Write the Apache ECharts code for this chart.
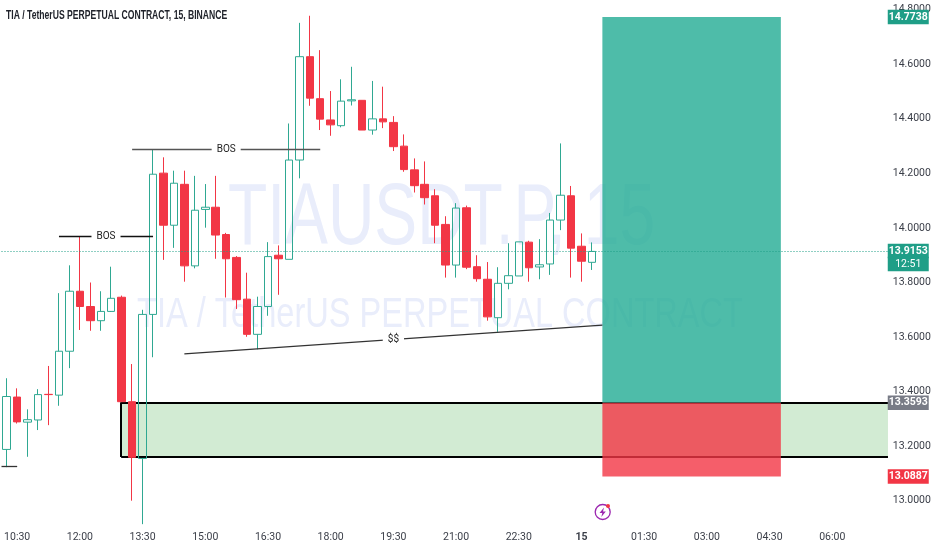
<!DOCTYPE html>
<html>
<head>
<meta charset="utf-8">
<style>html,body{margin:0;padding:0;background:#fff}#c{width:932px;height:550px}</style>
<script src="https://cdn.jsdelivr.net/npm/echarts@6/dist/echarts.min.js"></script>
</head>
<body>
<div id="c"></div>
<script>
const categories = ["10:15","10:30","10:45","11:00","11:15","11:30","11:45","12:00","12:15","12:30","12:45","13:00","13:15","13:30","13:45","14:00","14:15","14:30","14:45","15:00","15:15","15:30","15:45","16:00","16:15","16:30","16:45","17:00","17:15","17:30","17:45","18:00","18:15","18:30","18:45","19:00","19:15","19:30","19:45","20:00","20:15","20:30","20:45","21:00","21:15","21:30","21:45","22:00","22:15","22:30","22:45","23:00","23:15","23:30","23:45","15","00:15","00:30","00:45","01:00","01:15","01:30","01:45","02:00","02:15","02:30","02:45","03:00","03:15","03:30","03:45","04:00","04:15","04:30","04:45","05:00","05:15","05:30","05:45","06:00","06:15","06:30","06:45","07:00","07:15"];
const xTickLabels = ["10:30","12:00","13:30","15:00","16:30","18:00","19:30","21:00","22:30","15","01:30","03:00","04:30","06:00"];
const yTickLabels = [13.0,13.2,13.4,13.6,13.8,14.0,14.2,14.4,14.6,14.8];

const opens  = [13.188,13.380,13.288,13.296,13.390,13.387,13.548,13.768,13.712,13.660,13.694,13.746,13.363,13.155,13.683,14.201,14.010,14.160,13.861,14.068,14.076,13.976,13.892,13.739,13.610,13.712,13.900,13.885,14.249,14.628,14.474,14.396,14.375,14.466,14.468,14.359,14.400,14.387,14.300,14.213,14.160,14.118,14.013,13.864,14.074,13.858,13.812,13.671,13.797,13.824,13.948,13.857,13.868,14.029,14.118,13.933,13.874];
const closes = [13.382,13.289,13.297,13.389,13.389,13.548,13.768,13.712,13.660,13.694,13.742,13.363,13.159,13.683,14.197,14.010,14.164,13.861,14.065,14.076,13.974,13.887,13.737,13.610,13.712,13.895,13.887,14.249,14.628,14.476,14.399,14.378,14.465,14.470,14.359,14.400,14.389,14.298,14.214,14.155,14.111,14.010,13.864,14.073,13.856,13.814,13.674,13.797,13.825,13.949,13.854,13.865,14.029,14.120,13.926,13.878,13.914];
const lows   = [13.123,13.283,13.161,13.259,13.277,13.348,13.486,13.626,13.623,13.623,13.692,13.363,13.000,12.914,13.526,13.883,13.927,13.803,13.852,14.001,13.887,13.745,13.703,13.601,13.555,13.678,13.755,13.885,14.182,14.448,14.359,14.338,14.369,14.449,14.359,14.342,14.366,14.282,14.206,14.130,14.086,13.944,13.818,13.818,13.849,13.803,13.660,13.619,13.775,13.824,13.803,13.812,13.828,13.992,13.818,13.803,13.846];
const highs  = [13.449,13.412,13.335,13.409,13.494,13.761,13.863,13.968,13.800,13.768,13.858,13.752,13.501,13.700,14.288,14.259,14.210,14.210,14.191,14.161,14.191,13.982,13.897,13.836,13.748,13.948,13.936,14.383,14.752,14.778,14.652,14.502,14.545,14.591,14.468,14.539,14.518,14.410,14.343,14.255,14.244,14.142,14.043,14.091,14.082,13.900,13.875,13.856,13.944,13.949,13.953,13.959,14.055,14.310,14.154,13.980,13.947];

const lastPrice = 13.9153, countdownLevel = 13.868, countdownText = "12:51";
const targetPrice = 14.7738, entryPrice = 13.3593, stopPrice = 13.0887;
const zoneTop = 13.3608, zoneBottom = 13.1602;
// overlay x-values are in bar numbers
const zoneStartBar = 10.95, zoneEndBar = 84.33, boxStartBar = 57, boxEndBar = 74.08;
const bos1 = {from:5, to:14, price:13.968};
const bos2 = {from:12, to:30, price:14.287};
const ssLine = {from:17, to:57, p1:13.538, p2:13.644};
const stubLine = {from:-0.5, to:1, price:13.128};

const GREEN='#26a69a', RED='#f23645', TEXT='#3a3e48';
const FONT='Roboto,sans-serif';
const Y_MIN=12.9023, Y_MAX=14.8358;

const candleData = opens.map((o,i)=>[o,closes[i],lows[i],highs[i]]);
const tagValues = [targetPrice,lastPrice,countdownLevel,entryPrice,stopPrice];
const tagStyles = ['g','g','gs','s','r'];
const tagTexts = [targetPrice.toFixed(4),lastPrice.toFixed(4),countdownText,entryPrice.toFixed(4),stopPrice.toFixed(4)];

const tagBase = {color:'#fff',fontFamily:FONT,fontSize:10.5,width:35,padding:[0,3],height:14.5,lineHeight:14.5,align:'center',fontWeight:'bold'};
const helper = (extra)=>Object.assign({type:'line',xAxisIndex:1,yAxisIndex:0,data:[],silent:true,symbol:'none',animation:false},extra);
const lineLabel=(t)=>({show:true,formatter:t,position:'insideMiddle',rotate:0,color:'#222',fontFamily:FONT,fontSize:10,backgroundColor:'#fff',padding:[1,5]});
const noEnd={symbol:['none','none'],silent:true,animation:false};

const chart=echarts.init(document.getElementById('c'),null,{renderer:'canvas'});
chart.setOption({
  animation:false,
  backgroundColor:'#fff',
  grid:{left:1.5,right:42.25,top:0,bottom:22.65,outerBoundsMode:'none',containLabel:false},
  graphic:[
    {type:'text',z:-1,x:228,y:176,scaleX:0.73,style:{text:'TIAUSDT.P, 15',font:'88px "Liberation Sans"',fill:'#e9edfb',verticalAlign:'top'}},
    {type:'text',z:-1,x:137,y:294,scaleX:0.775,style:{text:'TIA / TetherUS PERPETUAL CONTRACT',font:'42px "Liberation Sans"',fill:'#e9edfb',verticalAlign:'top'}},
    {type:'text',z:10,x:6,y:10,scaleX:0.717,style:{text:'TIA / TetherUS PERPETUAL CONTRACT, 15, BINANCE',font:'bold 12px "Liberation Sans"',fill:'#20232b',verticalAlign:'top'}},
    {type:'circle',z:5,shape:{cx:602.7,cy:512,r:7.5},style:{fill:'#fff',stroke:'#9c27b0',lineWidth:1.3}},
    {type:'polygon',z:6,shape:{points:[[604,507.5],[599.5,513],[602.3,513],[601.3,517],[605.8,511.5],[603,511.5]]},style:{fill:'#9c27b0'}},
    {type:'circle',z:7,shape:{cx:608,cy:506,r:2},style:{fill:'#f23645'}}
  ],
  xAxis:[
    {type:'category',data:categories,boundaryGap:true,axisLine:{show:false},axisTick:{show:false},splitLine:{show:false},
     axisLabel:{interval:(i,name)=>xTickLabels.includes(name),color:TEXT,fontFamily:FONT,fontSize:10.5,margin:5,hideOverlap:false,
       formatter:(v)=>v==='15'?'{b|15}':v,rich:{b:{fontWeight:'bold',color:TEXT,fontFamily:FONT,fontSize:10.5}}}},
    {type:'value',min:-0.5,max:84.5,show:false,splitLine:{show:false}}
  ],
  yAxis:[
    {type:'value',position:'right',min:Y_MIN,max:Y_MAX,axisLine:{show:false},axisTick:{show:false},splitLine:{show:false},z:1,
     axisLabel:{customValues:yTickLabels,formatter:(v)=>v.toFixed(4),color:TEXT,fontFamily:FONT,fontSize:10.5,margin:3}},
    {type:'value',position:'right',min:Y_MIN,max:Y_MAX,axisLine:{show:false},axisTick:{show:false},splitLine:{show:false},z:5,
     axisLabel:{customValues:tagValues,margin:-2,align:'left',
       formatter:(v)=>{const i=tagValues.indexOf(v);return '{'+tagStyles[i]+'|'+tagTexts[i]+'}';},
       rich:{
         g:Object.assign({},tagBase,{backgroundColor:'#1f9e87'}),
         gs:Object.assign({},tagBase,{backgroundColor:'#1f9e87',fontWeight:'normal'}),
         s:Object.assign({},tagBase,{backgroundColor:'#787b86'}),
         r:Object.assign({},tagBase,{backgroundColor:RED})
       }}}
  ],
  series:[
    helper({z:1,name:'zone',
      markArea:{z:1,silent:true,animation:false,itemStyle:{color:'#d2ebd3'},data:[[{coord:[zoneStartBar,zoneTop]},{coord:[zoneEndBar,zoneBottom]}]]},
      markLine:Object.assign({z:1,lineStyle:{color:'#000',width:2,type:'solid'},label:{show:false},
        data:[[{coord:[zoneStartBar,zoneTop]},{coord:[zoneEndBar,zoneTop]}],
              [{coord:[zoneStartBar,zoneBottom]},{coord:[zoneEndBar,zoneBottom]}],
              [{coord:[zoneStartBar,zoneTop]},{coord:[zoneStartBar,zoneBottom]}]]},noEnd)}),
    {type:'candlestick',name:'TIAUSDT.P',xAxisIndex:0,yAxisIndex:0,z:2,barWidth:8,data:candleData,silent:true,animation:false,
     itemStyle:{color:'rgba(255,255,255,0)',color0:RED,borderColor:'#2fa892',borderColor0:RED,borderColorDoji:'#2fa892',borderWidth:1}},
    helper({z:3,name:'position',
      markArea:{z:3,silent:true,animation:false,data:[
        [{coord:[boxStartBar,targetPrice],itemStyle:{color:'rgba(34,171,148,0.8)'}},{coord:[boxEndBar,entryPrice]}],
        [{coord:[boxStartBar,entryPrice],itemStyle:{color:'rgba(242,54,69,0.8)'}},{coord:[boxEndBar,stopPrice]}]
      ]}}),
    helper({z:4,name:'drawings',
      markLine:Object.assign({z:4,lineStyle:{color:'#333',width:1.3,type:'solid'},label:{show:false},data:[
        [{coord:[bos1.from,bos1.price],label:lineLabel('BOS'),lineStyle:{color:'#111'}},{coord:[bos1.to,bos1.price]}],
        [{coord:[bos2.from,bos2.price],label:lineLabel('BOS'),lineStyle:{color:'#555'}},{coord:[bos2.to,bos2.price]}],
        [{coord:[ssLine.from,ssLine.p1],label:lineLabel('$$')},{coord:[ssLine.to,ssLine.p2]}],
        [{coord:[stubLine.from,stubLine.price]},{coord:[stubLine.to,stubLine.price]}],
        [{coord:[-0.5,lastPrice],lineStyle:{color:'#1f9e87',width:1,type:[1,2]}},{coord:[84.5,lastPrice]}]
      ]},noEnd)})
  ]
});
</script>
</body>
</html>
